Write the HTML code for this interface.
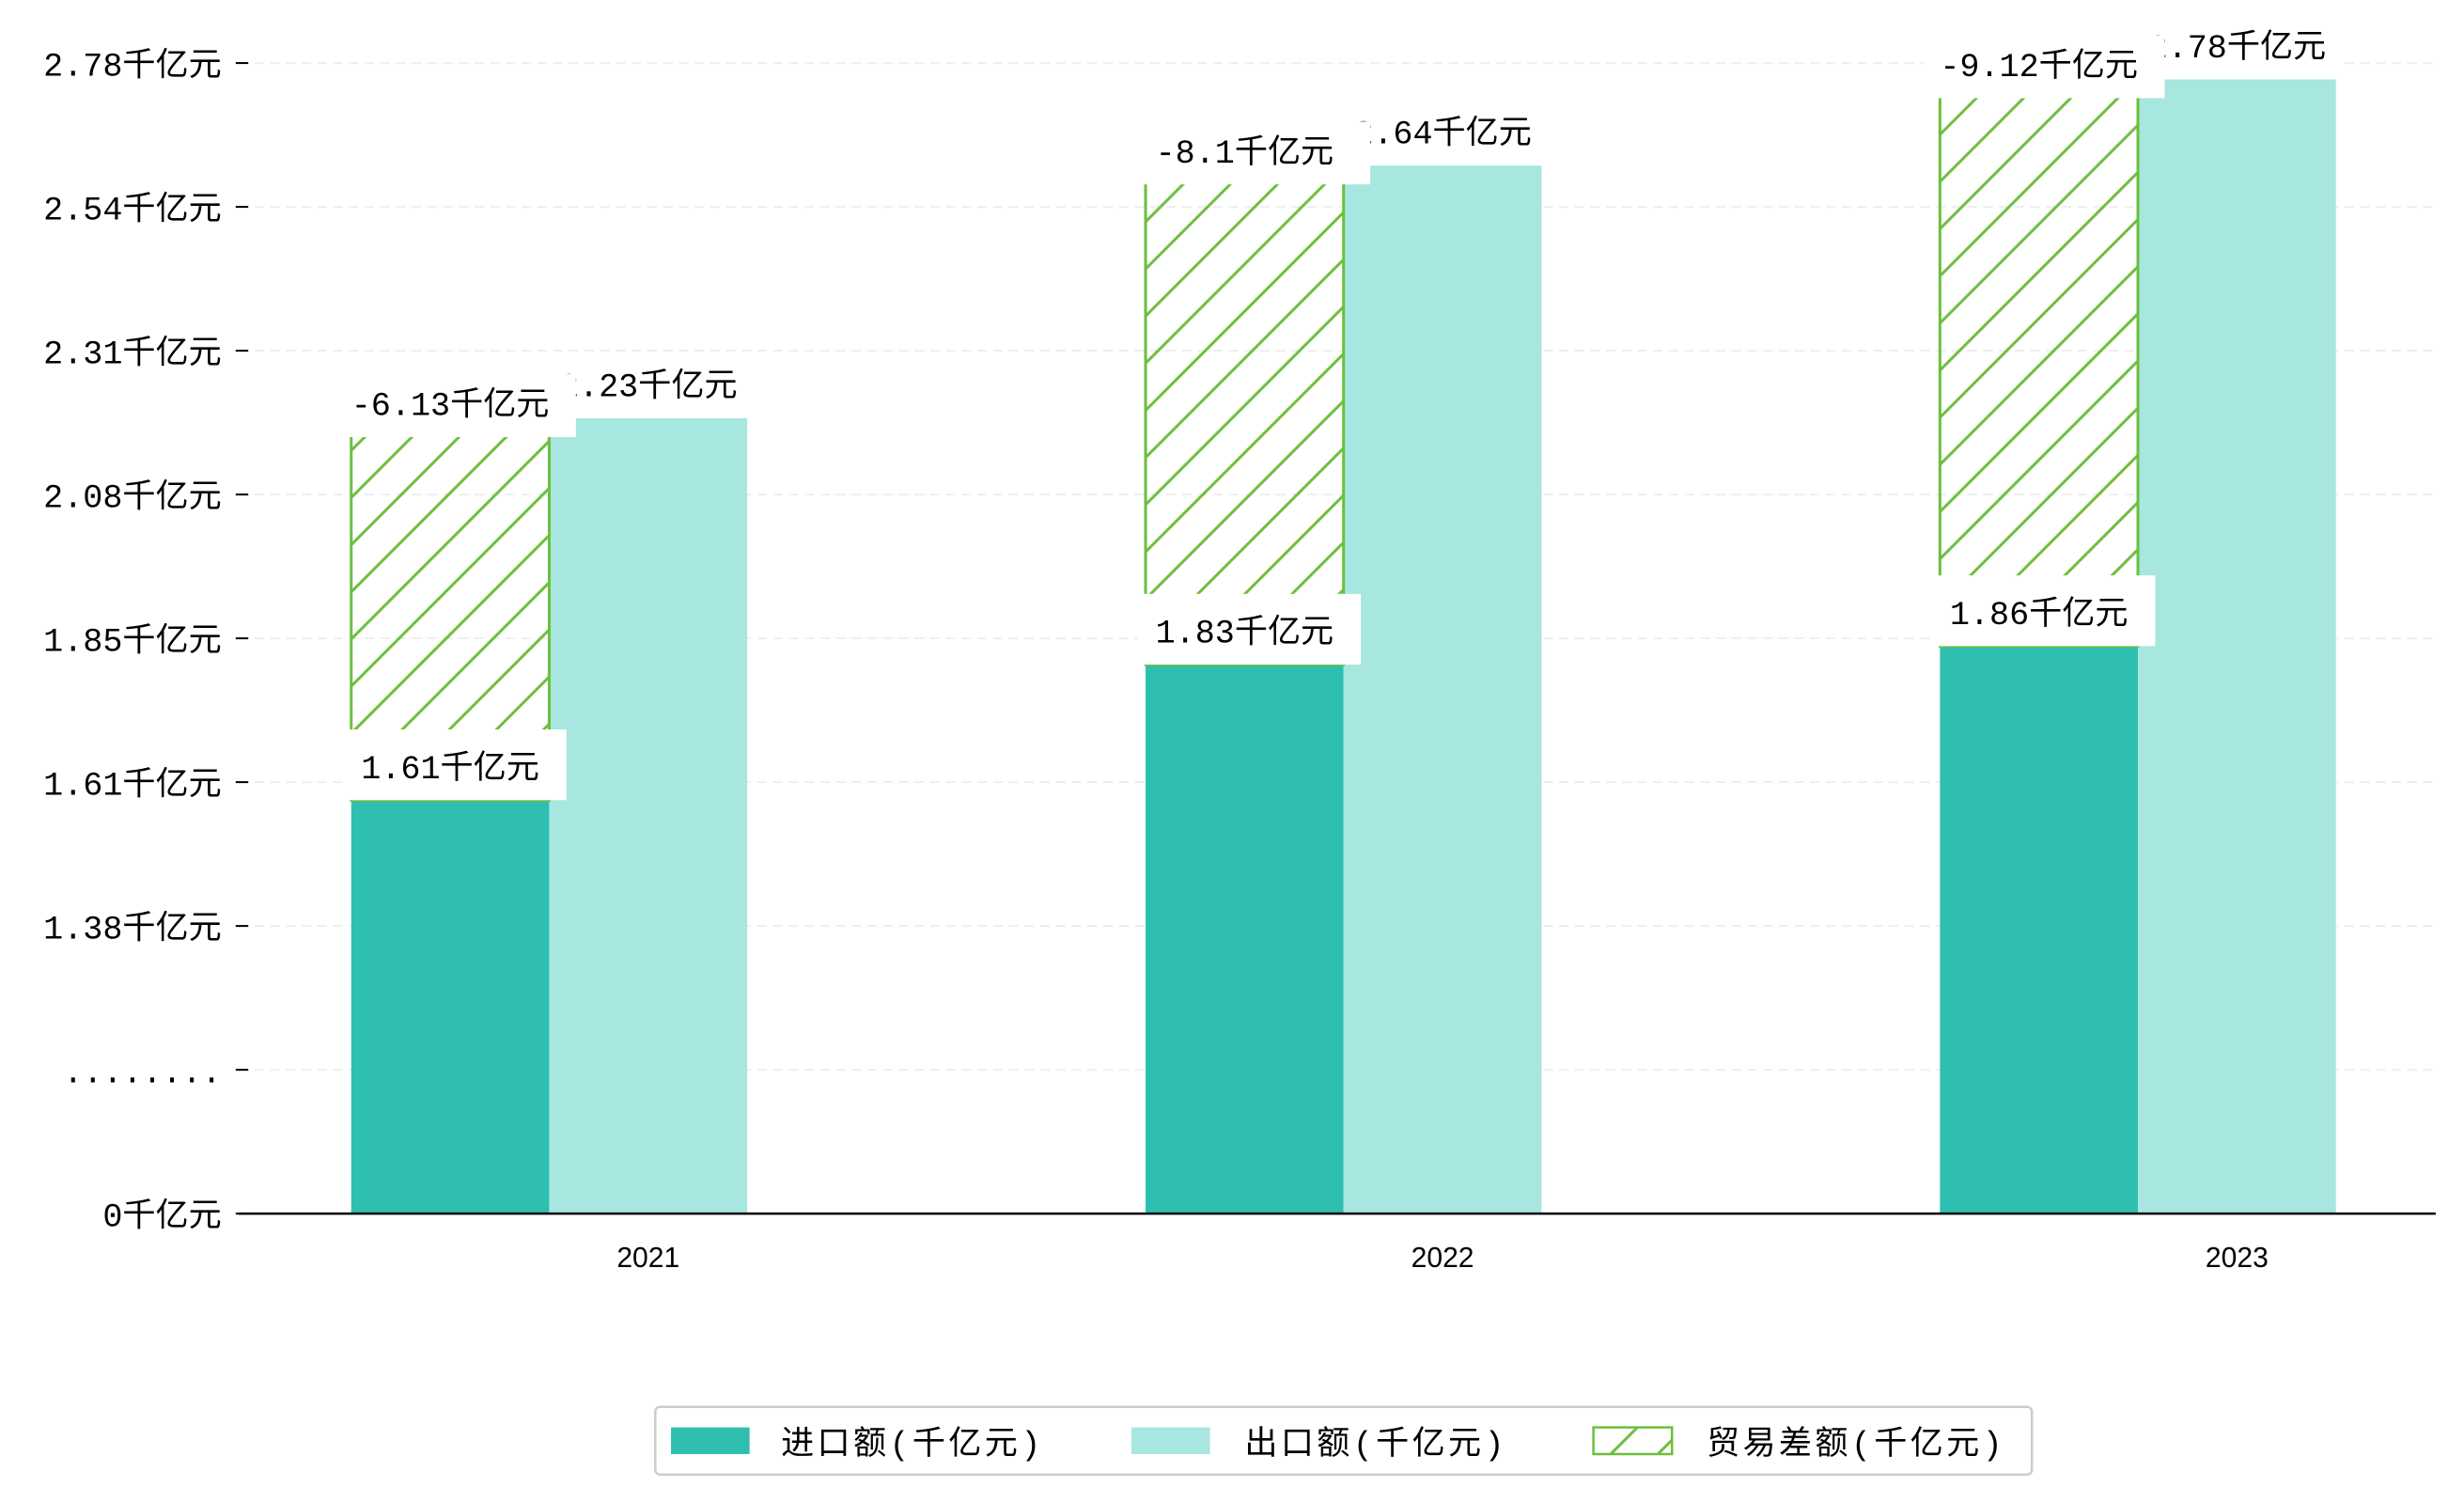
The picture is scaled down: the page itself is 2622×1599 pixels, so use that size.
<!DOCTYPE html>
<html><head><meta charset="utf-8">
<style>
html,body{margin:0;padding:0;background:#fff;}
svg{display:block;}
text{font-family:"Liberation Mono","WenQuanYi Zen Hei","Noto Sans CJK SC",monospace;}
text.lat{font-family:"Liberation Sans",sans-serif;}
</style></head>
<body>
<svg id="chart" width="2622" height="1599" viewBox="0 0 1568 956" xmlns="http://www.w3.org/2000/svg">
<defs>
<pattern id="hatch" patternUnits="userSpaceOnUse" width="30" height="30">
<path d="M-5,5 L5,-5 M0,30 L30,0 M25,35 L35,25" stroke="#6cbf3c" stroke-width="1.8"/>
</pattern>
</defs>
<g id="grid"></g>
<g id="bars"></g>
<g id="labels"></g>
<g id="axes"></g>
<g id="legend">
<rect x="417" y="895" width="876" height="43" rx="3" fill="#fff" stroke="#ccc" stroke-width="1.5"/>
<rect x="427" y="908" width="50" height="17" fill="#2fbfb1"/>
<text x="497" y="925" font-size="21" letter-spacing="2">进口额(千亿元)</text>
<rect x="720" y="908" width="50" height="17" fill="#a8e6e0"/>
<text x="792" y="925" font-size="21" letter-spacing="2">出口额(千亿元)</text>
<rect x="1014" y="908" width="50" height="17" fill="url(#hatch)" stroke="#6cbf3c" stroke-width="1.5"/>
<text x="1086" y="925" font-size="21" letter-spacing="2">贸易差额(千亿元)</text>
</g>
</svg>
<script>
const categories = ["2021","2022","2023"];
const importValues = [1.61,1.83,1.86];
const exportValues = [2.23,2.64,2.78];
const balanceLabels = ["-6.13千亿元","-8.1千亿元","-9.12千亿元"];
const importLabels = ["1.61千亿元","1.83千亿元","1.86千亿元"];
const exportLabels = ["2.23千亿元","2.64千亿元","2.78千亿元"];
const tickLabels = ["0千亿元","........","1.38千亿元","1.61千亿元","1.85千亿元","2.08千亿元","2.31千亿元","2.54千亿元","2.78千亿元"];

const NS="http://www.w3.org/2000/svg";
const baseY=772, yScale=392, v0=0.939;
function y(v){return baseY-(v-v0)*yScale;}
function tickY(i){return baseY-i*91.5;}
const groupCenter0=412.5, groupStep=505.5, barW=126;
function xc(i){return groupCenter0+i*groupStep;}
function mk(tag,attrs,parent){const e=document.createElementNS(NS,tag);for(const k in attrs)e.setAttribute(k,attrs[k]);parent.appendChild(e);return e;}

const grid=document.getElementById('grid'),bars=document.getElementById('bars'),labels=document.getElementById('labels'),axes=document.getElementById('axes');

tickLabels.forEach((t,i)=>{
  const ty=tickY(i);
  if(i>0){const g=mk('line',{x1:152,x2:1550,y1:ty,y2:ty,stroke:'#eee','stroke-width':1.2,'stroke-dasharray':'6,4'},grid);
  
  }
  const tk=mk('line',{x1:150,x2:158,y1:ty,y2:ty,stroke:'#000','stroke-width':1.2},axes);
  
  
  const tl=mk('text',{x:141,y:ty+8,'text-anchor':'end','font-size':21},axes);
  tl.textContent=t;
  
  
});
const ax=mk('line',{x1:152,x2:1550,y1:baseY,y2:baseY,stroke:'#000','stroke-width':1.5},axes);



categories.forEach((c,i)=>{
  const cx=xc(i);
  const ix=cx-barW*1.5, ex=cx-barW/2;
  const ib=mk('rect',{x:ix,y:y(importValues[i]),width:barW,height:baseY-y(importValues[i]),fill:'#2fbfb1'},bars);
  
  
  const eb=mk('rect',{x:ex,y:y(exportValues[i]),width:barW,height:baseY-y(exportValues[i]),fill:'#a8e6e0'},bars);
  
  
  const hb=mk('rect',{x:ix,y:y(exportValues[i]),width:barW,height:y(importValues[i])-y(exportValues[i]),fill:'url(#hatch)',stroke:'#6cbf3c','stroke-width':1.8},bars);
  
  
  const xt=mk('text',{x:cx,y:baseY+34,'text-anchor':'middle','font-size':18,'class':'lat'},axes);
  xt.textContent=c;
  
  

  const ic=ix+barW/2;
  const ey=y(exportValues[i]);
  mk('rect',{x:cx-68,y:ey-36,width:136,height:36,fill:'#fff'},labels);
  const et=mk('text',{x:cx,y:ey-14,'text-anchor':'middle','font-size':21},labels);
  et.textContent=exportLabels[i];
  
  
  const by=ey+12;
  mk('rect',{x:ic-73,y:by-40,width:153,height:40,fill:'#fff'},labels);
  const bt=mk('text',{x:ic,y:by-14,'text-anchor':'middle','font-size':21},labels);
  bt.textContent=balanceLabels[i];
  
  
  const iy=y(importValues[i]);
  mk('rect',{x:ic-68,y:iy-45,width:142,height:45,fill:'#fff'},labels);
  const it=mk('text',{x:ic,y:iy-14,'text-anchor':'middle','font-size':21},labels);
  it.textContent=importLabels[i];
  
  
});
</script>
</body></html>
